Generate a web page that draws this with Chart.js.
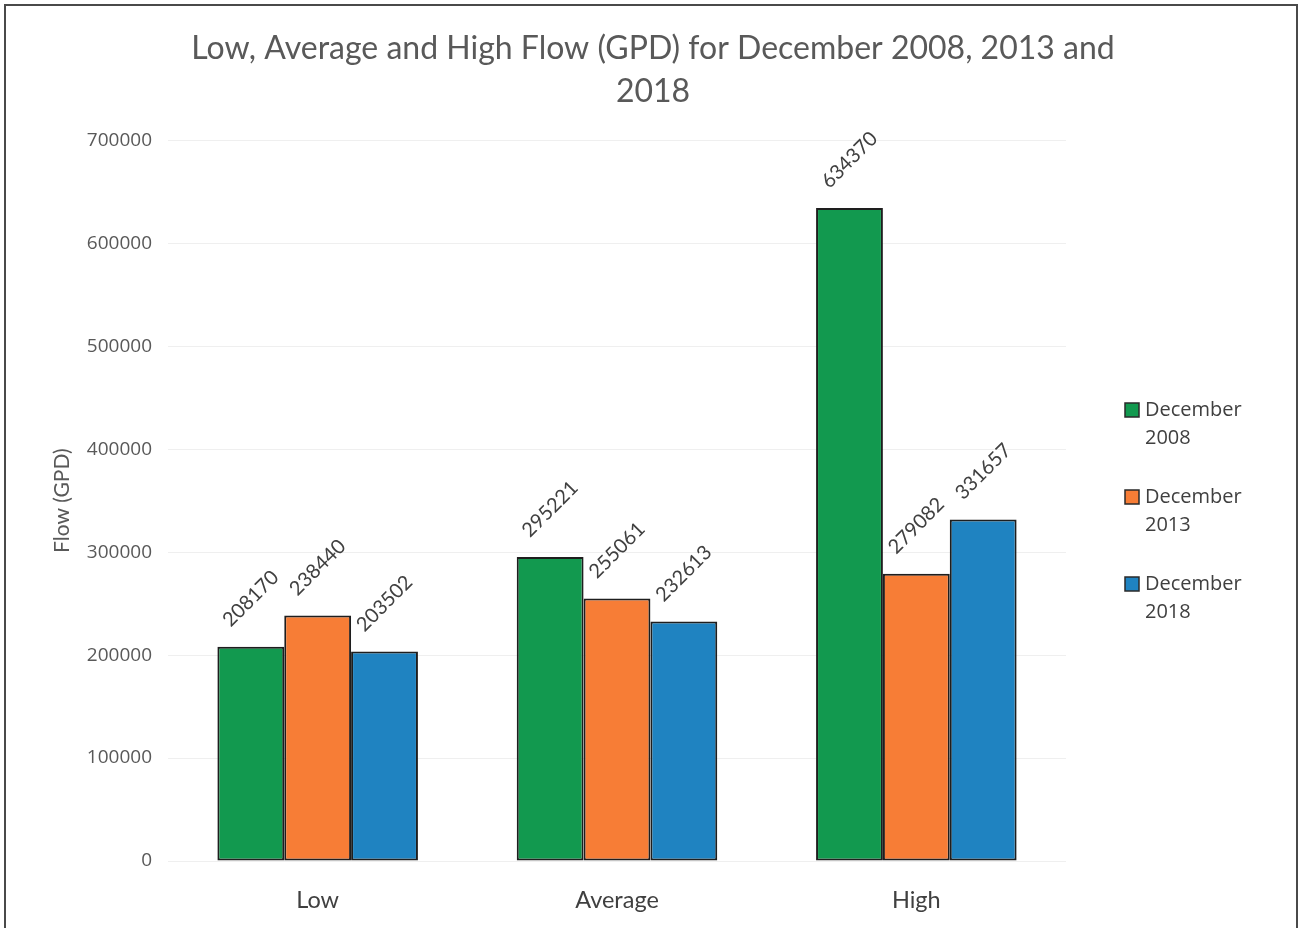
<!DOCTYPE html>
<html>
<head>
<meta charset="utf-8">
<script src="https://cdn.jsdelivr.net/npm/chart.js@4.4.1/dist/chart.umd.min.js"></script>
<style>
  html, body { margin: 0; padding: 0; background: #ffffff; overflow: hidden; }
  #wrap { position: relative; width: 1306px; height: 928px; }
  #frame { position: absolute; left: 4px; top: 4px; width: 1294px; height: 980px;
           border: 2px solid #4a4a4a; box-sizing: border-box; pointer-events: none; }
  canvas { position: absolute; left: 0; top: 0; }
</style>
</head>
<body>
<div id="wrap">
  <canvas id="chart" width="1306" height="928"></canvas>
  <div id="frame"></div>
</div>
<script>
// Flow readings (gallons per day) for each December
const categories = ['Low', 'Average', 'High'];
const seriesNames = ['December 2008', 'December 2013', 'December 2018'];
const dec2008 = [208170, 295221, 634370];
const dec2013 = [238440, 255061, 279082];
const dec2018 = [203502, 232613, 331657];
const yTicks = [0, 100000, 200000, 300000, 400000, 500000, 600000, 700000];

const seriesColors = ['#12994f', '#f77d36', '#1f83c1'];
const seriesValues = [dec2008, dec2013, dec2018];

// Rotated value labels above every bar
const barValueLabels = {
  id: 'barValueLabels',
  afterDatasetsDraw(chart) {
    const ctx = chart.ctx;
    ctx.save();
    ctx.font = '20px Lato';
    ctx.fillStyle = '#404040';
    ctx.textAlign = 'center';
    ctx.textBaseline = 'middle';
    chart.data.datasets.forEach((ds, di) => {
      const meta = chart.getDatasetMeta(di);
      meta.data.forEach((bar, i) => {
        ctx.save();
        ctx.translate(bar.x, bar.y - 48);
        ctx.rotate(-Math.PI / 4);
        ctx.fillText(String(ds.data[i]), 0, 0);
        ctx.restore();
      });
    });
    ctx.restore();
  }
};

// Legend on the right, with each series name wrapped onto two lines
const sideLegend = {
  id: 'sideLegend',
  afterDraw(chart, args, opts) {
    const ctx = chart.ctx;
    const area = chart.chartArea;
    ctx.save();
    ctx.font = '20px "Open Sans"';
    ctx.textBaseline = 'middle';
    ctx.textAlign = 'left';
    chart.data.datasets.forEach((ds, i) => {
      const y = opts.top + i * opts.spacing;
      const bx = area.right + opts.offsetX;
      ctx.fillStyle = ds.backgroundColor;
      ctx.fillRect(bx, y - 7, 14, 14);
      ctx.strokeStyle = '#2a2a2a';
      ctx.lineWidth = 1.5;
      ctx.strokeRect(bx, y - 7, 14, 14);
      ctx.fillStyle = '#404040';
      const parts = ds.label.split(' ');
      ctx.fillText(parts[0], bx + 20, y);
      ctx.fillText(parts.slice(1).join(' '), bx + 20, y + 28);
    });
    ctx.restore();
  }
};

const chart = new Chart(document.getElementById('chart'), {
  type: 'bar',
  data: {
    labels: categories,
    datasets: seriesNames.map((name, i) => ({
      label: name,
      data: seriesValues[i],
      backgroundColor: seriesColors[i],
      borderColor: '#1e1e1e',
      borderWidth: 2,
      borderSkipped: false,
      categoryPercentage: 0.67,
      barPercentage: 1.0
    }))
  },
  options: {
    responsive: false,
    animation: false,
    layout: { padding: 0 },
    plugins: {
      legend: { display: false },
      tooltip: { enabled: false },
      title: {
        display: true,
        text: ['Low, Average and High Flow (GPD) for December 2008, 2013 and', '2018'],
        color: '#595959',
        font: { family: 'Lato', size: 32, weight: 'normal', lineHeight: 1.35 },
        padding: { top: 27, bottom: 27 }
      },
      sideLegend: { top: 410, spacing: 87, offsetX: 59 }
    },
    scales: {
      x: {
        grid: { display: false, drawTicks: false },
        border: { display: false },
        ticks: { color: '#404040', font: { family: 'Lato', size: 23.5 }, padding: 25 },
        afterFit(scale) { scale.height = 67; }
      },
      y: {
        min: 0,
        max: 700000,
        afterBuildTicks(scale) { scale.ticks = yTicks.map(v => ({ value: v })); },
        grid: { color: '#efefef', lineWidth: 1, drawTicks: false },
        border: { display: false },
        ticks: { color: '#595959', font: { family: '"Open Sans"', size: 19 }, padding: 16,
                 callback: v => String(v) },
        title: { display: true, text: 'Flow (GPD)', color: '#595959',
                 font: { family: 'Lato', size: 21 }, padding: { top: 50, bottom: 0 } },
        afterFit(scale) { scale.width = 168; }
      },
      // empty right-hand band that keeps room for the legend
      yRight: {
        position: 'right',
        min: 0,
        max: 700000,
        grid: { display: false, drawTicks: false },
        border: { display: false },
        ticks: { display: false },
        afterFit(scale) { scale.width = 240; }
      }
    }
  },
  plugins: [barValueLabels, sideLegend]
});
</script>
</body>
</html>
